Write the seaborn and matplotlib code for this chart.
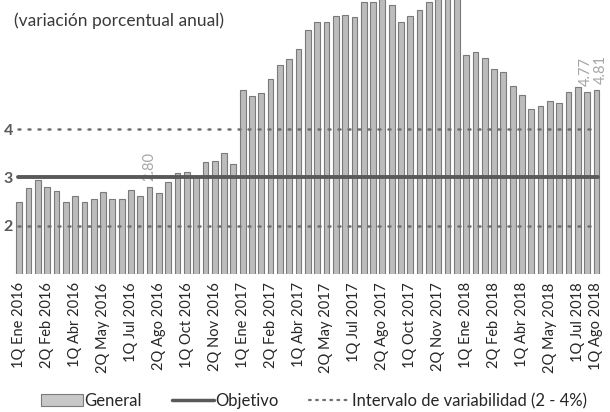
import numpy as np
import pandas as pd
import matplotlib
matplotlib.use("Agg")
import matplotlib.pyplot as plt
import seaborn as sns
from matplotlib.lines import Line2D
from matplotlib.patches import Patch

# Periodos quincenales (1Q Ene 2016 - 1Q Ago 2018)
meses = ["Ene", "Feb", "Mar", "Abr", "May", "Jun",
         "Jul", "Ago", "Sep", "Oct", "Nov", "Dic"]
periodos = []
for anio in [2016, 2017, 2018]:
    for mes in meses:
        for q in ["1Q", "2Q"]:
            periodos.append(f"{q} {mes} {anio}")
periodos = periodos[:periodos.index("1Q Ago 2018") + 1]

# Inflacion general (variacion porcentual anual)
general = [2.48, 2.77, 2.94, 2.80, 2.72, 2.50, 2.61, 2.50, 2.55, 2.70,
           2.56, 2.55, 2.73, 2.61, 2.80, 2.67, 2.91, 3.08, 3.11, 3.02,
           3.31, 3.34, 3.50, 3.27, 4.80, 4.68, 4.74, 5.03, 5.32, 5.45,
           5.65, 6.05, 6.21, 6.21, 6.34, 6.36, 6.31, 6.62, 6.62, 6.70,
           6.57, 6.21, 6.34, 6.46, 6.62, 6.69, 6.72, 6.85, 5.54, 5.59,
           5.47, 5.25, 5.19, 4.90, 4.71, 4.42, 4.47, 4.57, 4.54, 4.77,
           4.87, 4.77, 4.81]
objetivo = 3.0
intervalo = [2.0, 4.0]
etiquetados = ["1Q Ago 2016", "2Q Jul 2018", "1Q Ago 2018"]
etiqueta_valor = {"1Q Ago 2016": 2.80, "2Q Jul 2018": 4.77, "1Q Ago 2018": 4.81}

df = pd.DataFrame({"periodo": periodos, "general": general})

sns.set_style("white")
plt.rcParams["font.family"] = ["Lato", "DejaVu Sans"]

fig = plt.figure(figsize=(6.10, 4.12), dpi=100)
ax = fig.add_axes([14.6 / 610, 138 / 412, 586.5 / 610, 274 / 412])

sns.barplot(data=df, x="periodo", y="general", color="#bcbcbc",
            saturation=1, width=0.62, edgecolor="#7a7a7a", linewidth=0.8,
            ax=ax, zorder=2)

ax.set_xlim(-0.5, len(periodos) - 0.5)
ax.set_ylim(1.0, 6.67)

# Objetivo y rango de variabilidad
ax.axhline(objetivo, xmin=0.005, xmax=0.995, color="#595959", lw=2.8, zorder=4)
for v in intervalo:
    ax.axhline(v, xmin=0.005, xmax=0.995, color="#6f6f6f", lw=1.8,
               linestyle=(0, (0.8, 3.2)), dash_capstyle="round", zorder=3)

# Etiquetas de datos (las dos ultimas se separan un poco)
desplaz = {"1Q Ago 2016": 0.0, "2Q Jul 2018": -0.15, "1Q Ago 2018": 0.45}
for p in etiquetados:
    i = periodos.index(p)
    ax.text(i + desplaz[p], general[i] + 0.12, f"{etiqueta_valor[p]:.2f}",
            rotation=90, ha="center", va="bottom", color="#a6a6a6",
            fontsize=10.5, zorder=3)

# Ejes
pos = list(range(0, len(periodos), 3)) + [len(periodos) - 1]
ax.set_xticks(pos)
ax.set_xticklabels([periodos[i] for i in pos], rotation=90, fontsize=10.5,
                   color="#262626")
ax.set_yticks([2, 3, 4])
ax.set_yticklabels(["2", "3", "4"], fontsize=11.5, fontweight="bold",
                   color="#595959")
ax.tick_params(axis="y", length=0, pad=1)
ax.tick_params(axis="x", length=0, pad=6)
ax.set_xlabel("")
ax.set_ylabel("")
for s in ax.spines.values():
    s.set_visible(False)

fig.text(14 / 610, 1 - 21 / 412, "(variación porcentual anual)", fontsize=12.5,
         color="#3a3a3a", va="center", ha="left")

handles = [
    Patch(facecolor="#c8c8c8", edgecolor="#7a7a7a", linewidth=0.8),
    Line2D([0], [0], color="#595959", lw=2.5),
    Line2D([0], [0], color="#6f6f6f", lw=1.6, linestyle=(0, (0.8, 2.4)),
           dash_capstyle="round"),
]
fig.legend(handles, ["General", "Objetivo", "Intervalo de variabilidad (2 - 4%)"],
           loc="center", bbox_to_anchor=(0.515, 1 - 401 / 412), ncol=3,
           frameon=False, fontsize=12, handlelength=2.5, handleheight=0.7,
           handletextpad=0.1, columnspacing=1.8, labelcolor="#262626")

fig.savefig("out.png", dpi=100)
